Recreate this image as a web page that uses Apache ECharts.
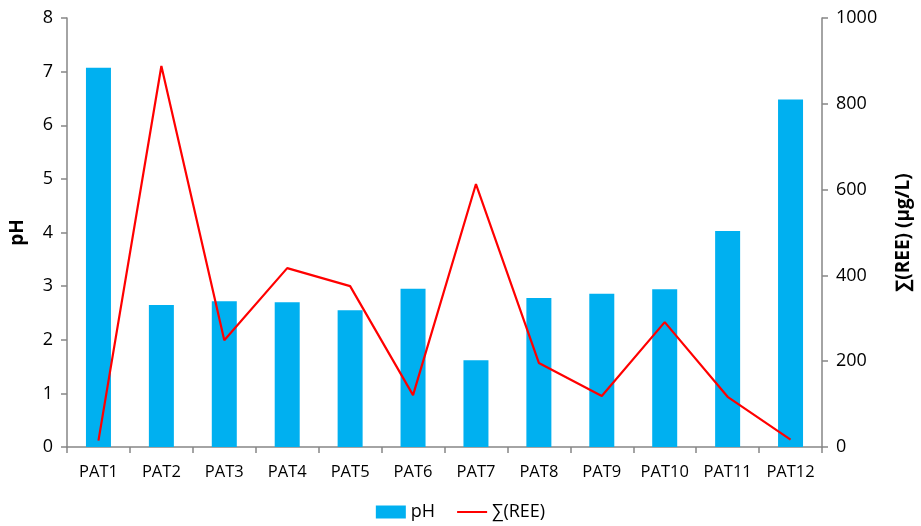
<!doctype html>
<html>
<head>
<meta charset="utf-8">
<title>pH and REE</title>
<style>
  html, body { margin: 0; padding: 0; background: #fff; }
  #main { width: 921px; height: 526px; }
</style>
</head>
<body>
<div id="main"></div>
<script src="https://cdn.jsdelivr.net/npm/echarts@6/dist/echarts.min.js"></script>
<script>
var categories = ['PAT1', 'PAT2', 'PAT3', 'PAT4', 'PAT5', 'PAT6', 'PAT7', 'PAT8', 'PAT9', 'PAT10', 'PAT11', 'PAT12'];
var phValues = [7.07, 2.65, 2.72, 2.70, 2.55, 2.95, 1.62, 2.78, 2.86, 2.94, 4.03, 6.48];
var reeValues = [15, 888, 249, 417, 375, 121, 613, 196, 119, 291, 117, 17];

var axisGray = '#868686';
var font = 'Open Sans';

var chart = echarts.init(document.getElementById('main'));
chart.setOption({
    animation: false,
    textStyle: { fontFamily: font },
    grid: { left: 66, right: 94, top: 18, bottom: 79 },
    legend: {
        bottom: 0,
        left: 'center',
        itemGap: 22,
        itemWidth: 30,
        itemHeight: 13,
        textStyle: { fontSize: 18, color: '#000', fontFamily: font },
        data: [
            { name: 'pH', icon: 'rect' },
            { name: '∑(REE)', icon: 'path://M0,0 L30,0 L30,2 L0,2 Z' }
        ]
    },
    xAxis: {
        type: 'category',
        data: categories,
        axisLine: { lineStyle: { color: axisGray, width: 1.5 } },
        axisTick: { show: true, alignWithLabel: false, length: 6, lineStyle: { color: axisGray, width: 1.5 } },
        axisLabel: { interval: 0, color: '#000', fontSize: 16.5, margin: 17, fontFamily: font }
    },
    yAxis: [{
        type: 'value',
        name: 'pH',
        nameLocation: 'middle',
        nameGap: 40,
        nameRotate: 90,
        nameTextStyle: { fontWeight: 'bold', fontSize: 19, color: '#000', fontFamily: font },
        min: 0, max: 8, interval: 1,
        axisLine: { show: true, lineStyle: { color: axisGray, width: 1.5 } },
        axisTick: { show: true, length: 6, lineStyle: { color: axisGray, width: 1.5 } },
        axisLabel: { color: '#000', fontSize: 18, margin: 14, fontFamily: font },
        splitLine: { show: false }
    }, {
        type: 'value',
        name: '∑(REE) (µg/L)',
        nameLocation: 'middle',
        nameGap: 72,
        nameRotate: 90,
        nameTextStyle: { fontWeight: 'bold', fontSize: 19, color: '#000', fontFamily: font },
        min: 0, max: 1000, interval: 200,
        position: 'right',
        axisLine: { show: true, lineStyle: { color: axisGray, width: 1.5 } },
        axisTick: { show: true, length: 6, lineStyle: { color: axisGray, width: 1.5 } },
        axisLabel: { color: '#000', fontSize: 18, margin: 14, fontFamily: font, formatter: function (v) { return String(v); } },
        splitLine: { show: false }
    }],
    series: [{
        name: 'pH',
        type: 'bar',
        yAxisIndex: 0,
        data: phValues,
        barWidth: 25,
        itemStyle: { color: '#00B0F0' }
    }, {
        name: '∑(REE)',
        type: 'line',
        yAxisIndex: 1,
        data: reeValues,
        showSymbol: false,
        symbol: 'none',
        lineStyle: { color: '#FF0000', width: 2.2 },
        itemStyle: { color: '#FF0000' }
    }]
});
</script>
</body>
</html>
